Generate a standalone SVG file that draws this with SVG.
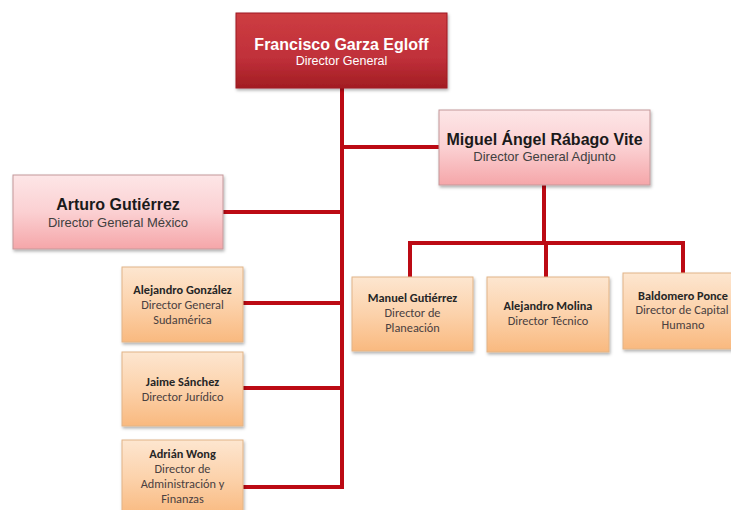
<svg xmlns="http://www.w3.org/2000/svg" width="731" height="510" viewBox="0 0 731 510">
<defs>
<linearGradient id="gRed" x1="0" y1="0" x2="0" y2="1">
<stop offset="0" stop-color="#cd3d41"/><stop offset="0.6" stop-color="#c0303a"/><stop offset="1" stop-color="#a21d22"/>
</linearGradient>
<linearGradient id="gPink" x1="0" y1="0" x2="0" y2="1">
<stop offset="0" stop-color="#fde6e7"/><stop offset="0.5" stop-color="#fbd0d2"/><stop offset="1" stop-color="#f5a6a9"/>
</linearGradient>
<linearGradient id="gOrange" x1="0" y1="0" x2="0" y2="1">
<stop offset="0" stop-color="#fde6d0"/><stop offset="0.5" stop-color="#fcd2ab"/><stop offset="1" stop-color="#f9b97f"/>
</linearGradient>
<filter id="sh" x="-10%" y="-10%" width="130%" height="140%">
<feDropShadow dx="1" dy="2" stdDeviation="1.5" flood-color="#000" flood-opacity="0.3"/>
</filter>
<style>
.red{fill:url(#gRed);stroke:#9e1c20;stroke-width:1;filter:url(#sh)}
.pink{fill:url(#gPink);stroke:#c4989a;stroke-width:1;filter:url(#sh)}
.org{fill:url(#gOrange);stroke:#e2b487;stroke-width:1;filter:url(#sh)}
.con{fill:none;stroke:#bc0a14;stroke-width:4;stroke-linejoin:miter}
.t{font-family:"Liberation Sans",Arial,sans-serif;text-anchor:middle}
.tw{fill:#ffffff}
.tb{fill:#1a1a1a}
.ts{fill:#404040}
.c{font-family:Carlito,Lato,"Liberation Sans",sans-serif;text-anchor:middle;font-size:12.3px}
.cn{font-weight:bold;fill:#262626}
.cs{fill:#4a4040}
</style>
</defs>
<g id="connectors">
<path class="con" d="M342,88 V489"/>
<path class="con" d="M342,147 H439"/>
<path class="con" d="M223,212 H342"/>
<path class="con" d="M243,303 H342"/>
<path class="con" d="M243,388 H342"/>
<path class="con" d="M243,487 H342"/>
<path class="con" d="M544,185 V243"/>
<path class="con" d="M410,277 V243 H683 V274"/>
<path class="con" d="M546,243 V277"/>
</g>
<g id="francisco">
<rect class="red" x="236" y="13" width="211" height="75"/>
<text class="t tw" x="341.5" y="50" font-size="16" font-weight="bold">Francisco Garza Egloff</text>
<text class="t tw" x="341.5" y="65" font-size="12.5">Director General</text>
</g>
<g id="miguel">
<rect class="pink" x="439" y="110" width="211" height="75"/>
<text class="t tb" x="544.5" y="145" font-size="16" font-weight="bold">Miguel Ángel Rábago Vite</text>
<text class="t ts" x="544.5" y="161" font-size="13">Director General Adjunto</text>
</g>
<g id="arturo">
<rect class="pink" x="13" y="175" width="210" height="74"/>
<text class="t tb" x="118" y="210" font-size="16" font-weight="bold">Arturo Gutiérrez</text>
<text class="t ts" x="118" y="227" font-size="13">Director General México</text>
</g>
<g id="gonzalez">
<rect class="org" x="122" y="267" width="121" height="75"/>
<text class="c cn" x="182.5" y="293.5">Alejandro González</text>
<text class="c cs" x="182.5" y="308.5">Director General</text>
<text class="c cs" x="182.5" y="323.5">Sudamérica</text>
</g>
<g id="jaime">
<rect class="org" x="122" y="352" width="121" height="74"/>
<text class="c cn" x="182.5" y="385.5">Jaime Sánchez</text>
<text class="c cs" x="182.5" y="400.5">Director Jurídico</text>
</g>
<g id="adrian">
<rect class="org" x="122" y="440" width="121" height="76"/>
<text class="c cn" x="182.5" y="458">Adrián Wong</text>
<text class="c cs" x="182.5" y="473">Director de</text>
<text class="c cs" x="182.5" y="488">Administración y</text>
<text class="c cs" x="182.5" y="503">Finanzas</text>
</g>
<g id="manuel">
<rect class="org" x="352" y="277" width="121" height="74"/>
<text class="c cn" x="412.5" y="302">Manuel Gutiérrez</text>
<text class="c cs" x="412.5" y="317">Director de</text>
<text class="c cs" x="412.5" y="332">Planeación</text>
</g>
<g id="molina">
<rect class="org" x="487" y="277" width="122" height="75"/>
<text class="c cn" x="548" y="310">Alejandro Molina</text>
<text class="c cs" x="548" y="325">Director Técnico</text>
</g>
<g id="baldomero">
<rect class="org" x="623" y="273" width="128" height="76"/>
<text class="c cn" x="683" y="299.5">Baldomero Ponce</text>
<text class="c cs" x="682" y="314">Director de Capital</text>
<text class="c cs" x="683" y="328.5">Humano</text>
</g>
</svg>
